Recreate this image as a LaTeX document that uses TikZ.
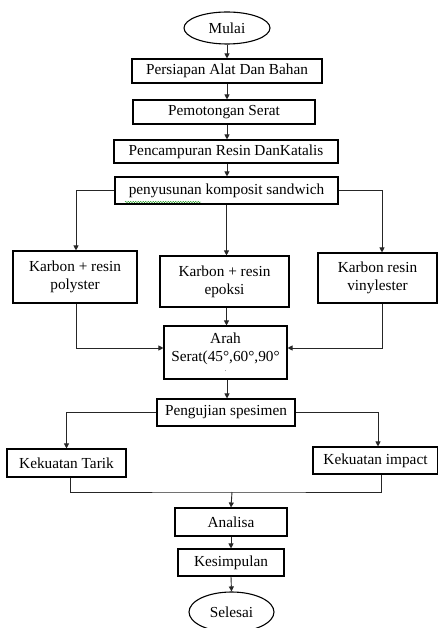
\documentclass[tikz,border=0pt]{standalone}
\usepackage{fontspec}
\setmainfont{Liberation Serif}
\usetikzlibrary{shapes.geometric,arrows.meta,decorations.pathmorphing}
\begin{document}
\begin{tikzpicture}[x=1pt,y=-1pt,
    box/.style={draw,line width=1.1pt,rectangle,align=center,inner sep=0pt,font=\fontsize{15.3}{18}\selectfont},
    term/.style={draw,line width=1.1pt,ellipse,inner sep=0pt,font=\fontsize{15.3}{18}\selectfont},
    flow/.style={-{Triangle[length=5pt,width=5pt]},line width=0.9pt,black!85}]
    \useasboundingbox (0, 0) rectangle (438, 628) ;
    \node[term, minimum width=86, minimum height=32] (mulai) at (227, 28) {Mulai} ;
    \node[box, minimum width=190, minimum height=24] (persiapan) at (227, 71) {Persiapan Alat Dan Bahan} ;
    \node[box, minimum width=182, minimum height=24] (potong) at (224, 112) {Pemotongan Serat} ;
    \node[box, minimum width=224, minimum height=23] (campur) at (226, 151.5) {Pencampuran Resin DanKatalis} ;
    \node[box, minimum width=223, minimum height=27] (susun) at (226.5, 190.5) {penyusunan komposit sandwich} ;
    \draw[green!55!black, decorate, decoration={snake, amplitude=0.6pt, segment length=2.5pt}]
      (125, 202) -- (201, 202) ;
    \node[box, minimum width=124, minimum height=52] (poly) at (75, 277) {Karbon + resin\\polyster} ;
    \node[box, minimum width=129, minimum height=51] (epoksi) at (224.5, 281.5) {Karbon + resin\\epoksi} ;
    \node[box, minimum width=119, minimum height=50] (vinyl) at (377.5, 278) {Karbon resin\\vinylester} ;
    \node[box, minimum width=123, minimum height=53] (arah) at (225.5, 352.5)
      {Arah\\Serat(45°,60°,90°\\[-8pt]{\fontsize{6}{6}\selectfont .}} ;
    \node[box, minimum width=138, minimum height=27] (uji) at (226, 412.5) {Pengujian spesimen} ;
    \node[box, minimum width=119, minimum height=28] (tarik) at (66.5, 463) {Kekuatan Tarik} ;
    \node[box, minimum width=125, minimum height=27] (impact) at (375.5, 460.5) {Kekuatan impact} ;
    \node[box, minimum width=112, minimum height=28] (analisa) at (231, 522) {Analisa} ;
    \node[box, minimum width=106, minimum height=27] (simpul) at (231, 562.5) {Kesimpulan} ;
    \node[term, minimum width=85, minimum height=40] (selesai) at (231.5, 612) {Selesai} ;
    \coordinate (gabung) at (232, 492) ;
    % alur utama
    \draw[flow] (mulai.south) -- (persiapan.north) ;
    \draw[flow] (persiapan.south) -- (persiapan.south |- potong.north) ;
    \draw[flow] ([xshift=3pt]potong.south) -- ([xshift=3pt]potong.south |- campur.north) ;
    \draw[flow] ([xshift=1pt]campur.south) -- ([xshift=1pt]campur.south |- susun.north) ;
    % cabang resin
    \draw[flow] (susun.west) -| ([xshift=1pt]poly.north) ;
    \draw[flow] (susun.south) -- (susun.south |- epoksi.north) ;
    \draw[flow] (susun.east) -| ([xshift=4.5pt]vinyl.north) ;
    \draw[flow] ([xshift=1pt]poly.south) |- ([yshift=4.5pt]arah.west) ;
    \draw[flow] ([xshift=2pt]epoksi.south) -- ([xshift=2pt]epoksi.south |- arah.north) ;
    \draw[flow] ([xshift=4.5pt]vinyl.south) |- ([yshift=4.5pt]arah.east) ;
    % pengujian
    \draw[flow] ([xshift=1.5pt]arah.south) -- ([xshift=1.5pt]arah.south |- uji.north) ;
    \draw[flow] (uji.west) -| (tarik.north) ;
    \draw[flow] (uji.east) -| ([xshift=2.5pt]impact.north) ;
    \draw[line width=0.9pt, black!85] ([xshift=3.5pt]tarik.south) |- (gabung) -| ([xshift=5.5pt]impact.south) ;
    \draw[flow] (gabung) -- (analisa.north) ;
    \draw[flow] (analisa.south) -- (simpul.north) ;
    \draw[flow] (simpul.south) -- (selesai.north) ;
\end{tikzpicture}
\end{document}
